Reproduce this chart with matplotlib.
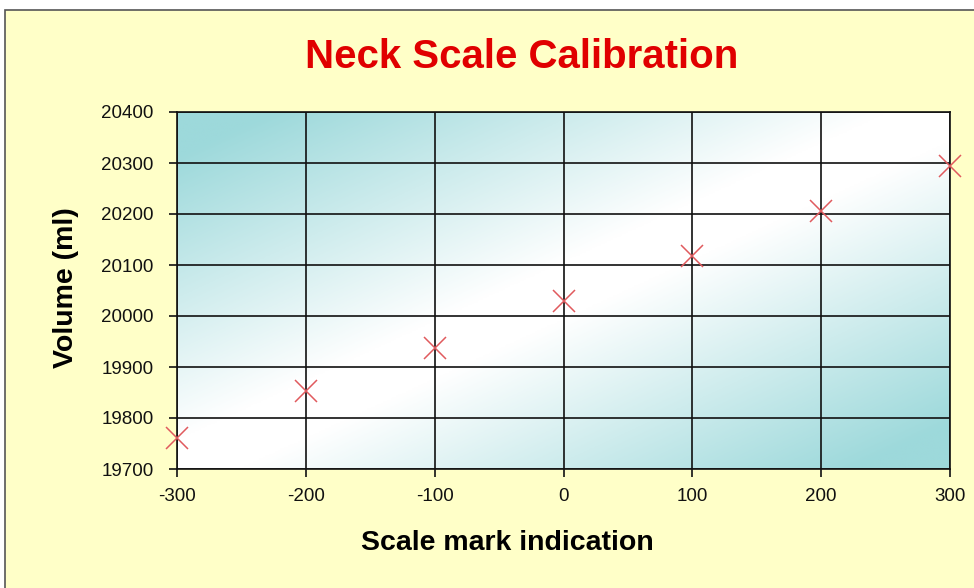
import numpy as np
import matplotlib
matplotlib.use("Agg")
import matplotlib.pyplot as plt
from matplotlib.patches import Rectangle
from matplotlib.colors import LinearSegmentedColormap

scale_marks = [-300, -200, -100, 0, 100, 200, 300]
volumes = [19760, 19853, 19938, 20030, 20117, 20205, 20295]
x_ticks = [-300, -200, -100, 0, 100, 200, 300]
y_ticks = [19700, 19800, 19900, 20000, 20100, 20200, 20300, 20400]

title = "Neck Scale Calibration"
xlabel = "Scale mark indication"
ylabel = "Volume (ml)"

plt.rcParams['font.family'] = ['Liberation Sans', 'DejaVu Sans']
plt.rcParams['axes.unicode_minus'] = False

W, H = 974, 588
fig = plt.figure(figsize=(W / 100, H / 100), dpi=100)
fig.patch.set_facecolor('white')

# chart area frame
frame = Rectangle((5 / W, -0.05), 1.1, 1 - 10 / H + 0.05, transform=fig.transFigure,
                  facecolor='#FFFFC8', edgecolor='#555555', linewidth=1.2, zorder=-10)
fig.patches.append(frame)

ax = fig.add_axes([177 / W, 1 - 469 / H, 773 / W, 357 / H])
ax.set_zorder(2)
ax.set_xlim(-300, 300)
ax.set_ylim(19700, 20400)

# diagonal gradient background
nx, ny = 400, 250
gx = np.linspace(0, 1, nx)
gy = np.linspace(1, 0, ny)
GX, GY = np.meshgrid(gx, gy)
t = np.abs(GX - GY)
t = np.clip((t - 0.08) / 0.8, 0, 1)
cmap = LinearSegmentedColormap.from_list('g', ['#FFFFFF', '#9DD9DB'])
ax.imshow(t, cmap=cmap, extent=[0, 1, 0, 1], transform=ax.transAxes,
          aspect='auto', zorder=0, vmin=0, vmax=1, interpolation='bilinear')

ax.set_xticks(x_ticks)
ax.set_yticks(y_ticks)
ax.grid(True, color='#111111', linewidth=1.2, zorder=1)
ax.set_axisbelow(False)
for s in ax.spines.values():
    s.set_color('#111111')
    s.set_linewidth(1.2)
ax.tick_params(axis='y', direction='out', length=6, width=1.2, pad=11,
               labelsize=13.5, colors='#111111')
ax.tick_params(axis='x', direction='out', length=6, width=1.2, pad=8,
               labelsize=13.5, colors='#111111')

ax.plot(scale_marks, volumes, linestyle='none', marker='x', markersize=16,
        markeredgewidth=1.1, color='#E05A5E', zorder=5, clip_on=False)

fig.text(0.536, 1 - 57 / H, title, color='#E00000', fontsize=29,
         fontweight='bold', ha='center', va='center')
fig.text(507 / W, 1 - 543 / H, xlabel, color='black', fontsize=20.5,
         fontweight='bold', ha='center', va='center')
fig.text(66 / W, 1 - 288 / H, ylabel, color='black', fontsize=20.5,
         fontweight='bold', ha='center', va='center', rotation=90)

fig.savefig('out.png', dpi=100, facecolor=fig.get_facecolor())
